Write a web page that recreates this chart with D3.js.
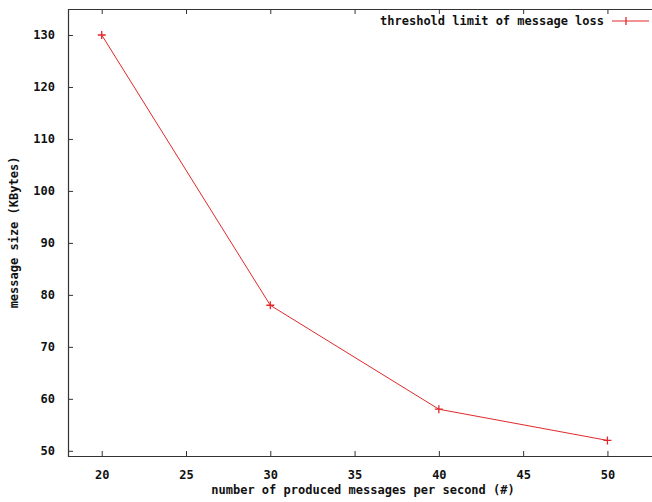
<!DOCTYPE html>
<html>
<head>
<meta charset="utf-8">
<script src="https://cdn.jsdelivr.net/npm/d3@7"></script>
<style>
  body { margin: 0; background: #fff; overflow: hidden; }
  svg text { font-family: "DejaVu Sans Mono", "Liberation Mono", monospace; font-weight: bold; font-size: 12px; fill: #111; }
</style>
</head>
<body>
<div class="chart"></div>
<script>
// data
var rates = [20, 30, 40, 50];
var sizes = [130, 78, 58, 52];
var xTicks = [20, 25, 30, 35, 40, 45, 50];
var yTicks = [50, 60, 70, 80, 90, 100, 110, 120, 130];
var seriesName = "threshold limit of message loss";

var svgWidth = 652, svgHeight = 502;
var margin = { top: 9, left: 68, bottom: 46, right: -6 };
var width = svgWidth - margin.left - margin.right;
var height = svgHeight - margin.top - margin.bottom;

var svg = d3.select(".chart")
  .append("svg")
  .attr("width", svgWidth)
  .attr("height", svgHeight);

var g = svg.append("g")
  .attr("transform", `translate(${margin.left}, ${margin.top})`);

var x = d3.scaleLinear().domain([18, 53]).range([0, width]);
var y = d3.scaleLinear().domain([49, 135]).range([height, 0]);

var axisColor = "#333";

// frame: left, top, bottom (right side falls outside the picture)
g.append("path")
  .attr("fill", "none")
  .attr("stroke", axisColor)
  .attr("stroke-width", 1.2)
  .attr("d", "M" + (width + 20) + ",0.5H0.5V" + (height + 0.5) + "H" + (width + 20));

// ticks drawn inward like gnuplot
var bottomAxis = g.append("g")
  .attr("transform", "translate(0," + height + ")")
  .call(d3.axisBottom(x).tickValues(xTicks).tickSize(-5).tickPadding(14));
var topAxis = g.append("g")
  .call(d3.axisTop(x).tickValues(xTicks).tickSize(-5).tickFormat(""));
var leftAxis = g.append("g")
  .call(d3.axisLeft(y).tickValues(yTicks).tickSize(-5).tickPadding(13));

[bottomAxis, topAxis, leftAxis].forEach(function(a) {
  a.select(".domain").remove();
  a.selectAll("line").attr("stroke", axisColor);
  a.selectAll("text").attr("font-family", null).attr("font-size", null).style("fill", "#111");
});

// series line
var pts = rates.map(function(r, i) { return [r, sizes[i]]; });
var red = "#e0282a";

g.append("path")
  .datum(pts)
  .attr("fill", "none")
  .attr("stroke", red)
  .attr("stroke-width", 1)
  .attr("d", d3.line()
    .x(function(d) { return x(d[0]); })
    .y(function(d) { return y(d[1]); }));

// plus markers
g.selectAll(".pt")
  .data(pts)
  .enter().append("path")
  .attr("class", "pt")
  .attr("stroke", red)
  .attr("stroke-width", 1.3)
  .attr("d", function(d) {
    var cx = x(d[0]), cy = y(d[1]);
    return "M" + (cx - 4) + "," + cy + "H" + (cx + 4) + "M" + cx + "," + (cy - 4) + "V" + (cy + 4);
  });

// legend (top right)
var legend = g.append("g").attr("transform", "translate(" + (width - 45) + ",12)");
legend.append("text")
  .attr("x", -9).attr("y", 0).attr("dy", "0.35em")
  .attr("text-anchor", "end")
  .text(seriesName);
legend.append("line")
  .attr("x1", -1).attr("x2", 36).attr("y1", 0).attr("y2", 0)
  .attr("stroke", red).attr("stroke-width", 1);
legend.append("path")
  .attr("stroke", red).attr("stroke-width", 1.3)
  .attr("d", "M13,-4V4");

// axis titles
svg.append("text")
  .attr("x", margin.left + width / 2)
  .attr("y", 494)
  .attr("text-anchor", "middle")
  .text("number of produced messages per second (#)");

svg.append("text")
  .attr("transform", "translate(18," + (margin.top + height / 2) + ") rotate(-90)")
  .attr("text-anchor", "middle")
  .text("message size (KBytes)");
</script>
</body>
</html>
